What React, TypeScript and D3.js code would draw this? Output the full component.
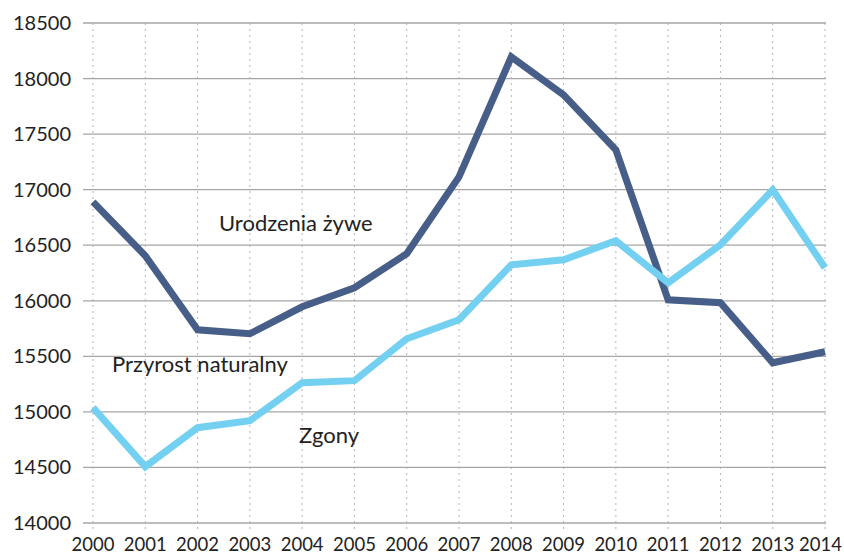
import React from 'react'
import * as d3 from 'd3'

const years = [2000, 2001, 2002, 2003, 2004, 2005, 2006, 2007, 2008, 2009, 2010, 2011, 2012, 2013, 2014]
const urodzenia = [16890, 16405, 15739, 15703, 15946, 16117, 16423, 17115, 18194, 17853, 17358, 16009, 15982, 15442, 15541]
const zgony = [15038, 14507, 14858, 14921, 15263, 15281, 15658, 15829, 16324, 16369, 16540, 16162, 16504, 16998, 16297]
const yTicks = [14000, 14500, 15000, 15500, 16000, 16500, 17000, 17500, 18000, 18500]

const width = 844
const height = 556
const font = "Lato, 'Open Sans', sans-serif"

const App = () => {
  const x = d3.scaleLinear().domain([2000, 2014]).range([93, 825])
  const y = d3.scaleLinear().domain([14000, 18500]).range([523, 23])

  const line = d3
    .line<number>()
    .x((d, i) => x(years[i]))
    .y((d) => y(d))

  const last = years[years.length - 1]

  return (
    <svg width={width} height={height} style={{ position: 'absolute', left: 0, top: 0 }}>
      <rect width={width} height={height} fill='#fff' />
      {/* vertical dotted grid */}
      {years.map((yr) => (
        <line
          key={'v' + yr}
          x1={x(yr)}
          x2={x(yr)}
          y1={y(18500)}
          y2={531}
          stroke='#b4b4b4'
          strokeWidth={1}
          strokeDasharray='2,4'
        />
      ))}
      {/* horizontal grid */}
      {yTicks.map((t) => (
        <line key={'h' + t} x1={83} x2={826} y1={y(t)} y2={y(t)} stroke='#a6a6a6' strokeWidth={1.3} />
      ))}
      {yTicks.map((t) => (
        <text
          key={'yl' + t}
          x={71}
          y={y(t)}
          dy='0.35em'
          textAnchor='end'
          fontFamily={font}
          fontSize={20}
          fill='#222'
        >
          {t}
        </text>
      ))}
      {years.map((yr) => (
        <text
          key={'xl' + yr}
          x={yr === last ? 842 : x(yr)}
          y={551}
          textAnchor={yr === last ? 'end' : 'middle'}
          fontFamily={font}
          fontSize={18.5}
          fill='#222'
        >
          {yr}
        </text>
      ))}
      <path d={line(urodzenia) || ''} fill='none' stroke='#475f88' strokeWidth={7} />
      <path d={line(zgony) || ''} fill='none' stroke='#74d0f1' strokeWidth={7} />
      <text x={219} y={231} fontFamily={font} fontSize={22} fill='#222'>
        Urodzenia żywe
      </text>
      <text x={112} y={372} fontFamily={font} fontSize={22} fill='#222'>
        Przyrost naturalny
      </text>
      <text x={299} y={443} fontFamily={font} fontSize={22} fill='#222'>
        Zgony
      </text>
    </svg>
  )
}

export default App
